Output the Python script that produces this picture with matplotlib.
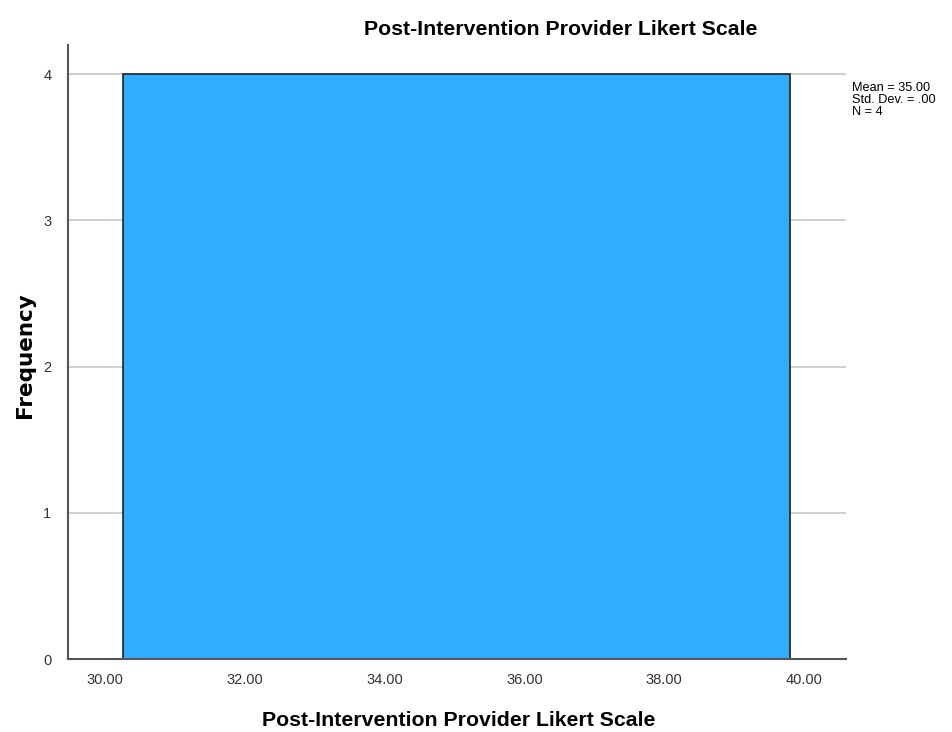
import matplotlib
matplotlib.use('Agg')
import matplotlib.pyplot as plt
import numpy as np

# histogram data (all four scores = 35)
bin_edges = [30.25, 39.80]
counts = [4]
xticks = [30, 32, 34, 36, 38, 40]
yticks = [0, 1, 2, 3, 4]
stats_text = ['Mean = 35.00', 'Std. Dev. = .00', 'N = 4']

plt.rcParams['font.family'] = ['Liberation Sans', 'DejaVu Sans']

fig = plt.figure(figsize=(9.53, 7.32), dpi=100)
ax = fig.add_axes([0.0714, 0.0997, 0.8163, 0.8388])

for yv in yticks[1:]:
    ax.axhline(yv, color='#c8c8c8', lw=1.2, zorder=0)

ax.bar(bin_edges[0], counts[0], width=bin_edges[1] - bin_edges[0], align='edge',
       color='#30adff', edgecolor='#222222', lw=1.2, zorder=2)

ax.set_xlim(29.47, 40.6)
ax.set_ylim(0, 4.2)
ax.set_xticks(xticks)
ax.set_xticklabels(['%.2f' % v for v in xticks], fontsize=10.5, color='#333333')
ax.set_yticks(yticks)
ax.set_yticklabels([str(v) for v in yticks], fontsize=10.5, color='#333333')
ax.tick_params(axis='x', length=0, pad=10)
ax.tick_params(axis='y', length=0, pad=12)

for s in ['top', 'right']:
    ax.spines[s].set_visible(False)
for s in ['left', 'bottom']:
    ax.spines[s].set_color('#555555')
    ax.spines[s].set_linewidth(1.5)

fig.text(0.588, 0.960, 'Post-Intervention Provider Likert Scale', ha='center', va='center',
         fontsize=15.3, fontweight='bold')
fig.text(0.481, 0.016, 'Post-Intervention Provider Likert Scale', ha='center', va='center',
         fontsize=15.3, fontweight='bold')
fig.text(0.026, 0.515, 'Frequency', ha='center', va='center', rotation=90,
         fontsize=15.5, fontweight='bold', family='DejaVu Sans')

fig.text(0.894, 0.888, '\n'.join(stats_text), ha='left', va='top', fontsize=9.2,
         linespacing=0.98)

fig.savefig('out.png', dpi=100)
